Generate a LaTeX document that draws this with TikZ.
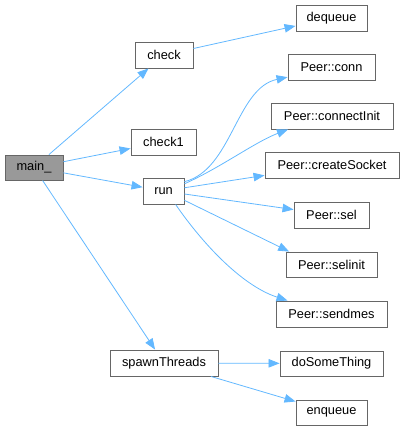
\documentclass[tikz,border=0pt]{standalone}
\usepackage{fontspec}
\setmainfont{Liberation Sans}
\usetikzlibrary{arrows.meta}
\definecolor{edgeblue}{HTML}{63B8FF}
\definecolor{boxborder}{HTML}{666666}
\definecolor{mainfill}{HTML}{999999}
\begin{document}
\begin{tikzpicture}[x=1pt,y=-1pt,
  fn/.style={draw=boxborder, line width=0.9pt, fill=white, inner sep=0pt,
    minimum height=26pt, font=\fontsize{12.8}{14}\selectfont, text=black},
  edge/.style={draw=edgeblue, line width=0.8pt, -{Triangle[length=11pt,width=8.5pt]}}]
\useasboundingbox (0,0) rectangle (404,431);
% nodes
\node[fn, fill=mainfill, minimum width=58pt, minimum height=25pt] (main) at (34,167.5) {main\_};
\node[fn, minimum width=58pt] (check) at (164,55) {check};
\node[fn, minimum width=65pt] (check1) at (163.5,142) {check1};
\node[fn, minimum width=41pt] (run) at (163.5,191) {run};
\node[fn, minimum width=108pt] (spawn) at (164,363) {spawnThreads};
\node[fn, minimum width=71pt] (dequeue) at (331.5,18) {dequeue};
\node[fn, minimum width=87pt] (conn) at (331.5,67) {Peer::conn};
\node[fn, minimum width=122pt] (cinit) at (332,116) {Peer::connectInit};
\node[fn, minimum width=134pt] (csock) at (332,165) {Peer::createSocket};
\node[fn, minimum width=75pt] (sel) at (331.5,215) {Peer::sel};
\node[fn, minimum width=91pt, minimum height=25pt] (selinit) at (331.5,264.5) {Peer::selinit};
\node[fn, minimum width=111pt] (sendmes) at (331.5,314) {Peer::sendmes};
\node[fn, minimum width=103pt, minimum height=25pt] (dosome) at (331.5,363.5) {doSomeThing};
\node[fn, minimum width=71pt, minimum height=25pt] (enqueue) at (331.5,412.5) {enqueue};
% edges
\draw[edge] (main) -- (check);
\draw[edge] (main) -- (check1);
\draw[edge] (main) -- (run);
\draw[edge] (main) -- (spawn);
\draw[edge] (check) -- (dequeue);
\draw[edge] (run.24) .. controls (232,170) and (236,88) .. (conn.193);
\draw[edge] (run.19) .. controls (220,168) and (255,142) .. (cinit.197);
\draw[edge] (run) -- (csock);
\draw[edge] (run) -- (sel);
\draw[edge] (run.-24) -- (selinit.163);
\draw[edge] (run.-48) .. controls (200,240) and (240,285) .. (sendmes.163);
\draw[edge] (spawn) -- (dosome);
\draw[edge] (spawn.-16.5) -- (enqueue.163);
\end{tikzpicture}
\end{document}
